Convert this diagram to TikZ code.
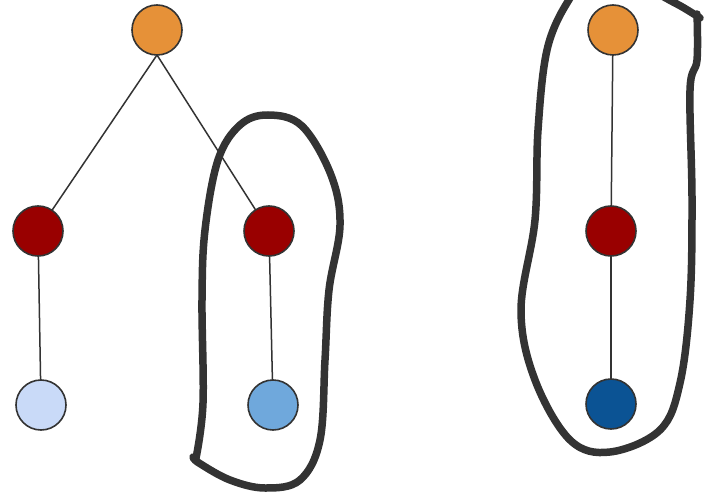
\documentclass[tikz,border=0pt]{standalone}
\usepackage{tikz}
\definecolor{rootorange}{HTML}{E69138}
\definecolor{midred}{HTML}{990000}
\definecolor{paleblue}{HTML}{C9DAF8}
\definecolor{lightblue}{HTML}{6FA8DC}
\definecolor{deepblue}{HTML}{0B5394}
\definecolor{inkgray}{HTML}{333333}
\begin{document}
\begin{tikzpicture}[x=1pt,y=-1pt,inner sep=0pt,outer sep=0pt,
vert/.style={draw=inkgray,circle,line width=1.6pt,minimum size=50pt},
edge/.style={draw=inkgray,line width=1.5pt},
lasso/.style={draw=inkgray,line width=7.5pt,line cap=round,line join=round}]
\useasboundingbox (0,0) rectangle (708,494);
\clip (0,0) rectangle (708,494);
% left tree
\draw (157,30) node[vert,fill=rootorange] (root) {};
\draw (38,231) node[vert,fill=midred] (redL) {};
\draw (269,231) node[vert,fill=midred] (redR) {};
\draw (41,405) node[vert,fill=paleblue] (leafL) {};
\draw (273,405) node[vert,fill=lightblue] (leafR) {};
\draw[edge] (root.south) -- (redL);
\draw[edge] (root.south) -- (redR);
\draw[edge] (redL) -- (leafL);
\draw[edge] (redR) -- (leafR);
% right chain
\draw (613,30) node[vert,fill=rootorange] (top) {};
\draw (611,231) node[vert,fill=midred] (mid) {};
\draw (611,404) node[vert,fill=deepblue] (bot) {};
\draw[edge] (top) -- (mid);
\draw[edge] (mid) -- (bot);
% hand drawn loops
\draw[lasso] plot[smooth,tension=0.6] coordinates {(193,457) (199,463) (230,480) (265,488) (300,480)
  (320,440) (325,360) (329,290) (340,225) (331,175) (302,126) (268,115) (240,125) (218,160)
  (205,230) (202,300) (203,403) (196,458)};
\draw[lasso] plot[smooth,tension=0.6] coordinates {(697,14) (697,60) (690,90) (692,200) (690,300)
  (680,383) (660,430) (610,452) (570,440) (535,380) (521,310) (535,220) (538,130) (547,50)
  (567,3) (585,-12) (640,-12) (675,3) (700,18)};
\end{tikzpicture}
\end{document}
